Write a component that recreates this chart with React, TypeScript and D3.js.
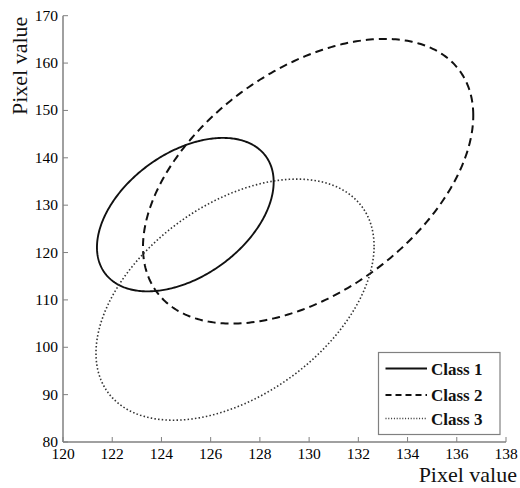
import React from "react";
import * as d3 from "d3";

// Ellipse parameters (data units)
const classNames = ["Class 1", "Class 2", "Class 3"];
const centerX = [124.97, 129.96, 126.99];
const centerY = [128.0, 135.05, 110.05];
const halfWidthX = [3.59, 6.71, 5.65];
const halfHeightY = [16.2, 30.05, 25.45];
const phaseCos = [0.426, 0.462, 0.444];

const xTicks = [120, 122, 124, 126, 128, 130, 132, 134, 136, 138];
const yTicks = [80, 90, 100, 110, 120, 130, 140, 150, 160, 170];

const W = 520;
const H = 488;
const left = 63;
const right = 506;
const top = 15.7;
const bottom = 442;

const dashes = ["none", "8,5", "1.5,2.2"];
const widths = [1.9, 2.0, 1.6];
const colors = ["#111", "#111", "#333"];

const serif: React.CSSProperties = { fontFamily: "Liberation Serif" };

export default function App() {
  const x = d3.scaleLinear().domain([120, 138]).range([left, right]);
  const y = d3.scaleLinear().domain([80, 170]).range([bottom, top]);
  const line = d3
    .line<[number, number]>()
    .x((d) => x(d[0]))
    .y((d) => y(d[1]))
    .curve(d3.curveLinearClosed);

  const paths = classNames.map((_, i) => {
    const phi = Math.acos(phaseCos[i]);
    const pts: [number, number][] = d3.range(0, 360, 1).map((deg) => {
      const t = (deg * Math.PI) / 180;
      return [
        centerX[i] + halfWidthX[i] * Math.cos(t),
        centerY[i] + halfHeightY[i] * Math.cos(t - phi),
      ];
    });
    return line(pts) || "";
  });

  const axisColor = "#808080";
  const legendRows = [368.5, 395, 418.5];

  return (
    <svg
      width={W}
      height={H}
      style={{ position: "absolute", left: 0, top: 0, background: "#fff" }}
    >
      <rect x={0} y={0} width={W} height={H} fill="#fff" />
      {paths.map((p, i) => (
        <path
          key={i}
          d={p}
          fill="none"
          stroke={colors[i]}
          strokeWidth={widths[i]}
          strokeDasharray={dashes[i]}
        />
      ))}
      {/* axes */}
      <line x1={left} x2={left} y1={top} y2={bottom} stroke={axisColor} strokeWidth={1.5} />
      <line x1={left} x2={right} y1={bottom} y2={bottom} stroke={axisColor} strokeWidth={1.5} />
      {xTicks.map((t) => (
        <g key={"x" + t}>
          <line x1={x(t)} x2={x(t)} y1={bottom} y2={bottom - 5} stroke={axisColor} strokeWidth={1} />
          <text x={x(t)} y={459} textAnchor="middle" fontSize={15.5} fill="#000" style={serif}>
            {t}
          </text>
        </g>
      ))}
      {yTicks.map((t) => (
        <g key={"y" + t}>
          <line x1={left} x2={left + 5} y1={y(t)} y2={y(t)} stroke={axisColor} strokeWidth={1} />
          <text x={58} y={y(t) + 5} textAnchor="end" fontSize={15.5} fill="#000" style={serif}>
            {t}
          </text>
        </g>
      ))}
      <text x={517} y={482} textAnchor="end" fontSize={22} fill="#111" style={serif}>
        Pixel value
      </text>
      <text
        transform={`translate(26.5,115) rotate(-90)`}
        textAnchor="start"
        fontSize={22}
        fill="#111"
        style={serif}
      >
        Pixel value
      </text>
      {/* legend */}
      <rect x={378.5} y={352.5} width={121.5} height={82} fill="#fff" stroke={axisColor} strokeWidth={1.2} />
      {classNames.map((c, i) => (
        <g key={c}>
          <line
            x1={385.5}
            x2={427}
            y1={legendRows[i]}
            y2={legendRows[i]}
            stroke={colors[i]}
            strokeWidth={widths[i]}
            strokeDasharray={dashes[i] === "none" ? undefined : dashes[i] === "8,5" ? "6,4" : "1,1.8"}
          />
          <text x={431} y={legendRows[i] + 6} fontSize={17} fontWeight="bold" fill="#111" style={serif}>
            {c}
          </text>
        </g>
      ))}
    </svg>
  );
}
